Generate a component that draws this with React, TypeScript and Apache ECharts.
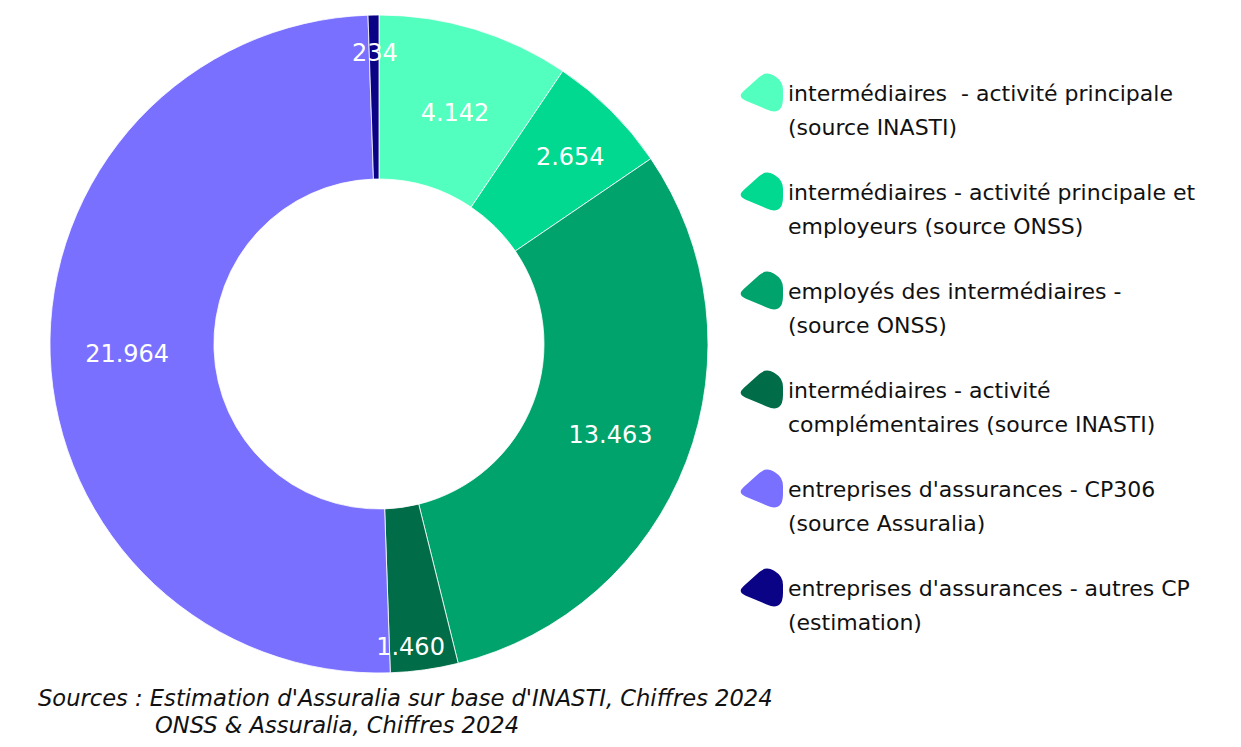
import React, { useEffect, useRef } from "react";
import * as echarts from "echarts";

const categories = [
  "intermédiaires  - activité principale\n(source INASTI)",
  "intermédiaires - activité principale et\nemployeurs (source ONSS)",
  "employés des intermédiaires -\n(source ONSS)",
  "intermédiaires - activité\ncomplémentaires (source INASTI)",
  "entreprises d'assurances - CP306\n(source Assuralia)",
  "entreprises d'assurances - autres CP\n(estimation)",
];
const values = [4142, 2654, 13463, 1460, 21964, 234];
const colors = ["#52ffbe", "#00d98f", "#00a36b", "#006c48", "#7a70ff", "#0b0385"];
const sourceLines = [
  "Sources : Estimation d'Assuralia sur base d'INASTI, Chiffres 2024",
  "ONSS & Assuralia, Chiffres 2024",
];

// label nudges (styling only)
const labelShift: Record<number, [number, number]> = {
  0: [3, 8],
  1: [15, -10],
  2: [-2, 2],
  3: [-3, 55],
  4: [-2, 2],
  5: [0, -41],
};

function roundedPoly(pts: number[][], r: number) {
  const n = pts.length;
  let d = "";
  for (let i = 0; i < n; i++) {
    const p = pts[i];
    const prev = pts[(i - 1 + n) % n];
    const next = pts[(i + 1) % n];
    const v1 = [prev[0] - p[0], prev[1] - p[1]];
    const v2 = [next[0] - p[0], next[1] - p[1]];
    const l1 = Math.hypot(v1[0], v1[1]);
    const l2 = Math.hypot(v2[0], v2[1]);
    const r1 = Math.min(r, l1 / 2);
    const r2 = Math.min(r, l2 / 2);
    const a = [p[0] + (v1[0] / l1) * r1, p[1] + (v1[1] / l1) * r1];
    const b = [p[0] + (v2[0] / l2) * r2, p[1] + (v2[1] / l2) * r2];
    d += (i === 0 ? "M" : "L") + a[0].toFixed(2) + " " + a[1].toFixed(2);
    d += "Q" + p[0] + " " + p[1] + " " + b[0].toFixed(2) + " " + b[1].toFixed(2);
  }
  d += "Z";
  return d;
}

// blob icon drawn inside a 48x82 box (box origin at -5,-5)
const blob =
  "path://" +
  roundedPoly(
    [
      [26, -3],
      [43, 7],
      [43, 33],
      [35, 39],
      [-3, 23],
    ],
    9
  ) +
  "M-5 -5L-5 -5M43 77L43 77";

function formatNum(v: number) {
  const s = String(v);
  return s.replace(/\B(?=(\d{3})+(?!\d))/g, ".");
}

export default function App() {
  const ref = useRef<HTMLDivElement>(null);
  useEffect(() => {
    if (!ref.current) return;
    const chart = echarts.init(ref.current, undefined, { renderer: "svg" });
    chart.setOption({
      animation: false,
      backgroundColor: "#ffffff",
      legend: {
        orient: "vertical",
        left: 735,
        top: 69,
        padding: 0,
        itemWidth: 48,
        itemHeight: 82,
        itemGap: 17,
        icon: blob,
        selectedMode: false,
        data: categories,
        itemStyle: { borderWidth: 0 },
        textStyle: {
          fontFamily: "DejaVu Sans",
          fontSize: 22,
          color: "#111111",
          lineHeight: 34,
        },
      },
      graphic: [
        {
          type: "text",
          x: 38,
          y: 698,
          style: {
            text: sourceLines[0],
            font: "italic 22.6px 'DejaVu Sans'",
            fill: "#111111",
            verticalAlign: "middle",
          },
        },
        {
          type: "text",
          x: 155,
          y: 725,
          style: {
            text: sourceLines[1],
            font: "italic 22.6px 'DejaVu Sans'",
            fill: "#111111",
            verticalAlign: "middle",
          },
        },
      ],
      series: [
        {
          type: "pie",
          center: [379, 344],
          radius: [165, 329],
          startAngle: 90,
          clockwise: true,
          avoidLabelOverlap: false,
          color: colors,
          itemStyle: { borderColor: "#ffffff", borderWidth: 0.8 },
          label: {
            show: true,
            position: "inside",
            color: "#ffffff",
            fontFamily: "DejaVu Sans",
            fontSize: 24,
            formatter: (p: any) => formatNum(p.value),
          },
          labelLine: { show: false },
          labelLayout: (p: any) => {
            const s = labelShift[p.dataIndex];
            return s ? { dx: s[0], dy: s[1] } : {};
          },
          emphasis: { disabled: true },
          data: categories.map((name, i) => ({ name, value: values[i] })),
        },
      ],
    });
    return () => chart.dispose();
  }, []);
  return (
    <div
      ref={ref}
      style={{ position: "fixed", left: 0, top: 0, width: 1241, height: 747 }}
    />
  );
}
